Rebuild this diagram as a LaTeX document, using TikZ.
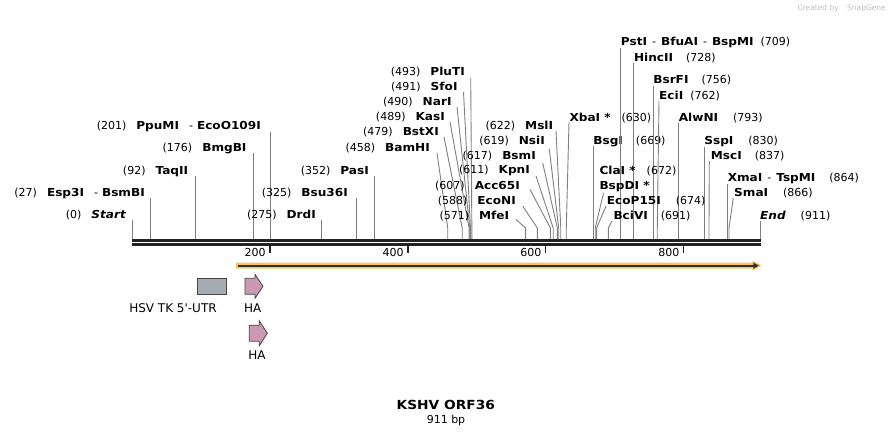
\documentclass[tikz,border=0pt]{standalone}
\usepackage{fontspec}
\setmainfont{DejaVu Sans}[Ligatures=TeXOff]
\newfontfamily\bfam{DejaVu Sans}[FakeStretch=1.1,Ligatures=TeXOff]
\definecolor{cutgray}{RGB}{128,128,128}
\definecolor{rulerblk}{RGB}{34,34,34}
\definecolor{featorange}{RGB}{250,196,102}
\definecolor{featdark}{RGB}{51,51,51}
\definecolor{utrgray}{RGB}{166,172,179}
\definecolor{hapink}{RGB}{204,153,180}
\definecolor{edgegray}{RGB}{70,70,70}
\newcommand\nm[1]{{\bfam\bfseries #1}}
\newcommand\lsep{\hspace{10pt}-\hspace{4pt}}
\newcommand\rsep{\hspace{5pt}{\normalfont -}\hspace{5pt}}
\newcommand\sxp[1]{132+#1*0.68935}
% left label, vertical line: id, pos, label east x, label y, line start y, name
\newcommand\LabV[6]{%
  \coordinate (s#1) at ({\sxp{#2}},239.3);
  \coordinate (c#1) at ({\sxp{#2}},#5);
  \node[lab,anchor=base east] (l#1) at (#3,{#4+4}) {(#2)\hspace{10pt}#6};
  \draw[cut] (c#1) -- (s#1);}
% left label, bent line: id, pos, label east x, label y, start x, start y, name
\newcommand\LabD[7]{%
  \coordinate (s#1) at ({\sxp{#2}},239.3);
  \coordinate (b#1) at ({\sxp{#2}},228);
  \coordinate (c#1) at (#5,#6);
  \node[lab,anchor=base east] (l#1) at (#3,{#4+4}) {(#2)\hspace{10pt}\nm{#7}};
  \draw[cut] (c#1) -- (b#1) -- (s#1);}
% right label, vertical line: id, pos, label y, start y, name, gap
\newcommand\RabV[6]{%
  \coordinate (s#1) at ({\sxp{#2}},239.3);
  \coordinate (c#1) at ({\sxp{#2}},#4);
  \node[lab,anchor=base west] (l#1) at ({\sxp{#2}},{#3+4}) {\nm{#5}\hspace{#6}(#2)};
  \draw[cut] (c#1) -- (s#1);}
% right label, bent line: id, pos, label west x, label y, start x, start y, name, gap
\newcommand\RabD[8]{%
  \coordinate (s#1) at ({\sxp{#2}},239.3);
  \coordinate (b#1) at ({\sxp{#2}},228);
  \coordinate (c#1) at (#5,#6);
  \node[lab,anchor=base west] (l#1) at (#3,{#4+4}) {\nm{#7}\hspace{#8}(#2)};
  \draw[cut] (c#1) -- (b#1) -- (s#1);}
\begin{document}
\begin{tikzpicture}[x=1pt,y=-1pt,
  lab/.style={font=\fontsize{11}{13}\selectfont,inner sep=0pt},
  flab/.style={font=\fontsize{12}{14}\selectfont,inner sep=0pt},
  cut/.style={draw=cutgray,line width=0.9pt}]
\fill[white] (0,0) rectangle (893,436);
\useasboundingbox (0,0) rectangle (893,436);

% watermark
\node[font=\fontsize{7.5}{8}\selectfont,text=black!25,anchor=east,inner sep=0pt] (wm) at (886,8) {Created by \hspace{6pt}SnapGene};

% cut sites, left labels
\LabV{st}{0}{126}{214}{220}{\nm{\itshape Start}}
\LabV{esp}{27}{145}{192}{198}{\nm{Esp3I}\lsep\nm{BsmBI}}
\LabV{taq}{92}{188.3}{170}{176}{\nm{TaqII}}
\LabV{bmg}{176}{246.7}{147}{153}{\nm{BmgBI}}
\LabV{ppu}{201}{261}{125}{132}{\nm{PpuMI}\lsep\nm{EcoO109I}}
\LabV{drd}{275}{316}{214}{220}{\nm{DrdI}}
\LabV{bsu}{325}{348}{192}{198}{\nm{Bsu36I}}
\LabV{pas}{352}{369}{170}{176}{\nm{PasI}}

\LabD{bam}{458}{430}{147.3}{437}{153}{BamHI}
\LabD{bstx}{479}{439}{131.7}{444}{137}{BstXI}
\LabD{kas}{489}{445}{116.7}{450}{122}{KasI}
\LabD{nar}{490}{451.7}{101.7}{457}{107}{NarI}
\LabD{sfo}{491}{457.7}{86}{463.5}{92}{SfoI}
\LabD{plu}{493}{465}{71.7}{470.7}{78}{PluTI}
\LabD{mfe}{571}{509.3}{215}{516}{219.5}{MfeI}
\LabD{econ}{588}{516}{200}{522.7}{206}{EcoNI}
\LabD{acc}{607}{520}{185}{530}{189.5}{Acc65I}
\LabD{kpn}{611}{530}{169.3}{536}{176}{KpnI}
\LabD{bsm}{617}{536}{155}{542.7}{163}{BsmI}
\LabD{nsi}{619}{545}{140}{549.3}{149}{NsiI}
\LabD{msl}{622}{553.3}{125}{556}{131}{MslI}

% cut sites, right labels
\RabV{bsg}{669}{140}{146}{BsgI}{13pt}
\RabV{pst}{709}{41.7}{48}{PstI\rsep BfuAI\rsep BspMI}{7pt}
\RabV{hinc}{728}{57.3}{63}{HincII}{13pt}
\RabV{bsrf}{756}{79.3}{86}{BsrFI}{13pt}
\RabV{alw}{793}{117.7}{123}{AlwNI}{15pt}
\RabV{ssp}{830}{140.7}{147}{SspI}{15pt}
\RabV{xma}{864}{177.7}{184}{XmaI\rsep TspMI}{14pt}
\RabV{end}{911}{215.7}{221}{\itshape End}{15pt}

\RabD{xba}{630}{569.3}{117.7}{569}{122}{XbaI *}{11pt}
\RabD{eci}{762}{659}{95}{659}{101}{EciI}{7pt}
\RabD{cla}{672}{599.3}{170}{603.5}{193}{ClaI *}{11pt}
\node[lab,anchor=base west] (lbspd) at (599.3,189) {\nm{BspDI *}};
\RabD{ecop}{674}{606.7}{200}{606}{206}{EcoP15I}{15pt}
\RabD{bci}{691}{613.3}{215.7}{612}{221}{BciVI}{13pt}
\RabD{msc}{837}{710.7}{155}{709.3}{161}{MscI}{13pt}
\RabD{sma}{866}{734}{192.3}{733.3}{198}{SmaI}{15pt}

% ruler
\draw[rulerblk,line width=2.4pt] (132,240.5) -- (760.5,240.5);
\draw[rulerblk,line width=2.4pt] (132,244.4) -- (760.5,244.4);
\foreach \p in {200,400,600,800}{
  \draw[rulerblk,line width=1.6pt] ({\sxp{\p}},245.5) -- ({\sxp{\p}},253);
  \node[lab,anchor=east] (t\p) at ({\sxp{\p}-4},252.3) {\p};
}

% feature bar
\fill[featorange] (236,262.6) -- (752.6,262.6) -- (752.6,260.5) -- (761.5,265.6)
  -- (752.6,270.7) -- (752.6,268.6) -- (236,268.6) -- cycle;
\draw[featdark,line width=2.2pt] (237.5,265.6) -- (754,265.6);
\fill[featdark] (753.3,262.6) -- (758.8,265.6) -- (753.3,268.8) -- cycle;

% features
\node[draw=edgegray,fill=utrgray,line width=0.8pt,minimum width=29pt,minimum height=16pt,inner sep=0pt] (utr) at (211.5,286.3) {};
\filldraw[fill=hapink,draw=edgegray,line width=0.8pt] (245,278.3) -- (255,278.3) -- (255,274.3)
  -- (263,286.3) -- (255,298.3) -- (255,294.3) -- (245,294.3) -- cycle;
\filldraw[fill=hapink,draw=edgegray,line width=0.8pt] (249.3,325.2) -- (259.3,325.2) -- (259.3,320.7)
  -- (267.3,333.2) -- (259.3,345.7) -- (259.3,341.2) -- (249.3,341.2) -- cycle;
\node[flab] (lutr) at (173,308) {HSV TK 5'-UTR};
\node[flab] (lha1) at (252.7,308) {HA};
\node[flab] (lha2) at (257,355) {HA};

% title
\node[font=\bfam\bfseries\fontsize{12.5}{14}\selectfont,inner sep=0pt] (title) at (445.8,405.3) {KSHV ORF36};
\node[lab] (len) at (446,420.7) {911 bp};
\end{tikzpicture}
\end{document}
